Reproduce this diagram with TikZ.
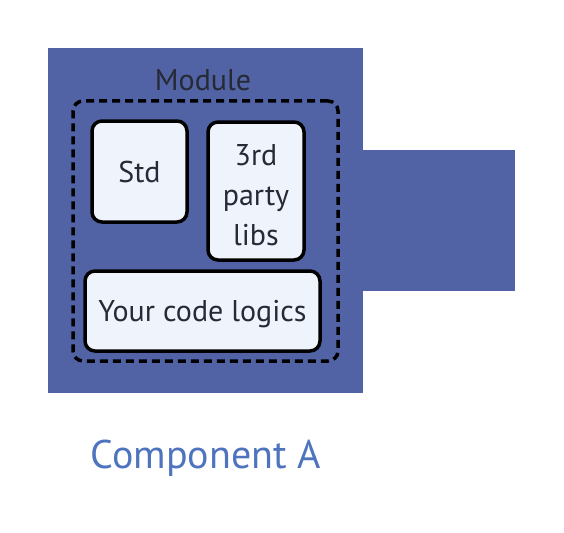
\documentclass[tikz,border=0pt]{standalone}
\usepackage{fontspec}
\setmainfont{PT Sans}
\usetikzlibrary{positioning}
\definecolor{compblue}{HTML}{5163A4}
\definecolor{boxfill}{HTML}{EEF3FC}
\definecolor{inktext}{HTML}{262A36}
\definecolor{labelblue}{HTML}{4F74BE}
\tikzset{
  libbox/.style={draw=black, line width=3.5pt, rounded corners=10pt, fill=boxfill, inner sep=0},
  libtext/.style={text=inktext, align=center, inner sep=0, font=\fontsize{30}{40}\selectfont},
}
\begin{document}
\begin{tikzpicture}[x=1pt, y=-1pt]
  \useasboundingbox (0,0) rectangle (564,532);
  % component body and its tab
  \node[fill=compblue, inner sep=0, minimum width=152pt, minimum height=141pt] (tab) at (439,220.5) {};
  \node[fill=compblue, inner sep=0, minimum width=315pt, minimum height=345pt] (body) at (205.5,220.5) {};
  \node[draw=black, dashed, dash pattern=on 8pt off 5pt, line width=3.5pt, rounded corners=10pt, inner sep=0, minimum width=265pt, minimum height=260pt] (module) at (205.5,231) {};
  \node[text=inktext, font=\fontsize{30}{36}\selectfont] (modlabel) at (203,80) {Module};

  \node[libbox, minimum width=95pt, minimum height=101pt] (std) at (139.5,171.5) {};
  \node[libtext] (stdtext) at (std.center) {Std};
  \node[libbox, minimum width=96pt, minimum height=138pt] (third) at (256,191) {};
  \node[libtext] (thirdtext) at ([yshift=-4pt]third.center) {3rd\\party\\libs};
  \node[libbox, minimum width=235pt, minimum height=80pt] (logic) at (202.5,311) {};
  \node[libtext, text depth=0pt] (logictext) at (logic.center) {Your code logics};

  \node[text=labelblue, font=\fontsize{40}{44}\selectfont] (complabel) at (206,458) {Component A};
\end{tikzpicture}
\end{document}
